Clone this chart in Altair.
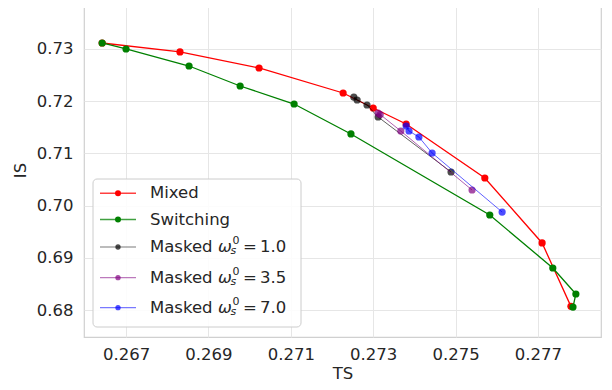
import altair as alt
import pandas as pd

# ---- data ----
mixed_ts = [0.26642, 0.26831, 0.27023, 0.27227, 0.27300, 0.27380, 0.27571, 0.27710, 0.27780]
mixed_is = [0.73115, 0.72943, 0.72636, 0.72157, 0.71870, 0.71563, 0.70529, 0.69284, 0.68070]

switch_ts = [0.26642, 0.26700, 0.26853, 0.26977, 0.27108, 0.27246, 0.27583, 0.27736, 0.27792, 0.27785]
switch_is = [0.73115, 0.73000, 0.72674, 0.72291, 0.71946, 0.71372, 0.69820, 0.68805, 0.68307, 0.68057]

m1_ts = [0.27253, 0.27261, 0.27285, 0.27312, 0.27489]
m1_is = [0.72080, 0.72023, 0.71927, 0.71697, 0.70644]

m35_ts = [0.27312, 0.27317, 0.27367, 0.27540]
m35_is = [0.71770, 0.71745, 0.71429, 0.70299]

m7_ts = [0.27380, 0.27387, 0.27411, 0.27443, 0.27613]
m7_is = [0.71525, 0.71429, 0.71314, 0.71008, 0.69877]

x_ticks = [0.267, 0.269, 0.271, 0.273, 0.275, 0.277]
y_ticks = [0.68, 0.69, 0.70, 0.71, 0.72, 0.73]

series = [
    ("Mixed", mixed_ts, mixed_is, "#ff0000", 1.3, 1.0, "1.0"),
    ("Switching", switch_ts, switch_is, "#008000", 1.3, 1.0, "1.0"),
    ("Masked 1.0", m1_ts, m1_is, "#000000", 0.9, 0.7, "1.0"),
    ("Masked 3.5", m35_ts, m35_is, "#800080", 0.9, 0.7, "3.5"),
    ("Masked 7.0", m7_ts, m7_is, "#0000ff", 0.9, 0.7, "7.0"),
]

W, H = 517, 334
xscale = alt.Scale(domain=[0.26598, 0.27853], nice=False, zero=False)
yscale = alt.Scale(domain=[0.67483, 0.73881], nice=False, zero=False)

FONT = "DejaVu Sans"
TXT = "#262626"

layers = []
for i, (name, xs, ys, col, sw, op, w) in enumerate(series):
    df = pd.DataFrame({"TS": xs, "IS": ys, "idx": list(range(len(xs)))})
    base = alt.Chart(df)
    enc = dict(
        x=alt.X("TS:Q", scale=xscale, title="TS",
                axis=alt.Axis(values=x_ticks, format=".3f")),
        y=alt.Y("IS:Q", scale=yscale, title="IS",
                axis=alt.Axis(values=y_ticks, format=".2f")),
        order="idx:Q",
    )
    line = base.mark_line(color=col, strokeWidth=sw, opacity=op).encode(**enc)
    pts = base.mark_circle(color=col, size=52, opacity=op).encode(**enc)
    layers += [line, pts]

# ---- manual legend (decoration) ----
one = pd.DataFrame({"a": [0]})
legend_layers = []
legend_layers.append(
    alt.Chart(one).mark_rect(fill="white", fillOpacity=0.85, stroke="#cccccc",
                             strokeWidth=1, cornerRadius=4).encode(
        x=alt.value(9), x2=alt.value(217), y=alt.value(176), y2=alt.value(324))
)
rows_y = [190.3, 216.5, 244, 274.7, 304.7]
for (name, xs, ys, col, sw, op, w), ry in zip(series, rows_y):
    legend_layers.append(
        alt.Chart(one).mark_rule(color=col, strokeWidth=sw + 0.3, opacity=op * 0.75).encode(
            x=alt.value(16), x2=alt.value(52), y=alt.value(ry)))
    legend_layers.append(
        alt.Chart(one).mark_circle(color=col, size=36 if op == 1.0 else 28, opacity=op).encode(
            x=alt.value(34), y=alt.value(ry)))
    tstyle = dict(font=FONT, fontSize=16.5, color=TXT, align="left", baseline="middle")
    if op == 1.0:
        legend_layers.append(
            alt.Chart(one).mark_text(**tstyle).encode(
                x=alt.value(66), y=alt.value(ry), text=alt.value(name)))
    else:
        legend_layers.append(alt.Chart(one).mark_text(**tstyle).encode(
            x=alt.value(66), y=alt.value(ry), text=alt.value("Masked")))
        legend_layers.append(alt.Chart(one).mark_text(fontStyle="italic", **tstyle).encode(
            x=alt.value(134), y=alt.value(ry), text=alt.value("ω")))
        sub = dict(font=FONT, fontSize=11, color=TXT, align="left", baseline="middle")
        legend_layers.append(alt.Chart(one).mark_text(fontStyle="italic", **sub).encode(
            x=alt.value(146.5), y=alt.value(ry + 4), text=alt.value("s")))
        legend_layers.append(alt.Chart(one).mark_text(**sub).encode(
            x=alt.value(148.5), y=alt.value(ry - 6), text=alt.value("0")))
        legend_layers.append(alt.Chart(one).mark_text(**tstyle).encode(
            x=alt.value(159), y=alt.value(ry), text=alt.value("=")))
        legend_layers.append(alt.Chart(one).mark_text(**tstyle).encode(
            x=alt.value(176), y=alt.value(ry), text=alt.value(w)))

chart = alt.layer(*layers, *legend_layers).properties(
    width=W, height=H,
    autosize=alt.AutoSizeParams(type="none"),
    padding={"left": 76, "top": -5, "right": 3, "bottom": 45},
).configure_view(
    stroke="#d0d0d0", strokeWidth=1.2
).configure_axis(
    labelFont=FONT, titleFont=FONT, labelFontSize=16.5, titleFontSize=16.5,
    labelColor=TXT, titleColor=TXT, titleFontWeight="normal",
    grid=True, gridColor="#e6e6e6", gridWidth=1,
    domain=False, ticks=False,
).configure_axisX(
    labelPadding=9, titlePadding=3
).configure_axisY(
    labelPadding=11, titlePadding=8
)

chart.save("out.html", embed_options={"renderer": "svg", "actions": False})
